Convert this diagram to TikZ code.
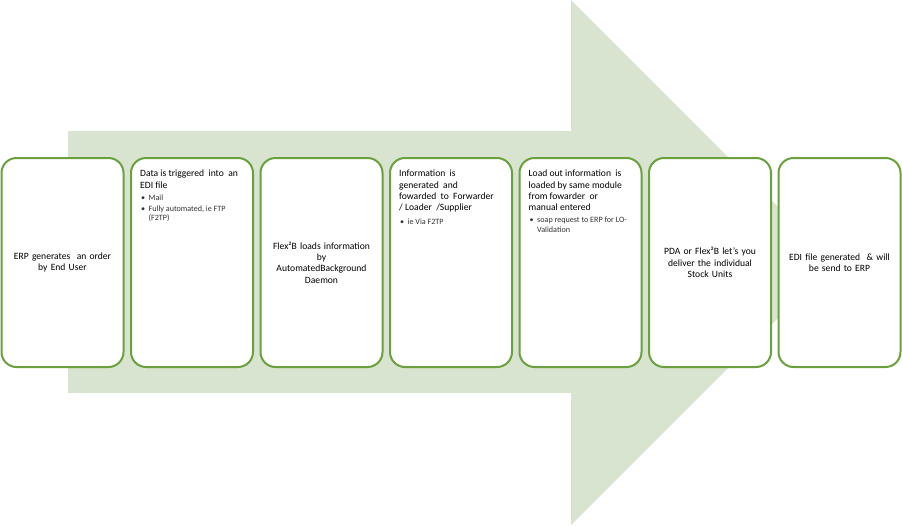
\documentclass[tikz,border=0pt]{standalone}
\usepackage{fontspec}
\setmainfont{Carlito}
\definecolor{arrowfill}{RGB}{216,228,207}
\definecolor{boxline}{RGB}{106,160,62}
\newcommand\bul{\makebox[7.5pt][l]{\textbullet}}
\newcommand\bind{\hspace*{7.5pt}}
\tikzset{
  stepbox/.style={draw=boxline, line width=2pt, fill=white, rounded corners=15pt,
    minimum width=122pt, minimum height=209pt, inner sep=4pt, align=center, text width=112pt,
    font=\fontsize{9.6}{11.3}\selectfont},
  titletext/.style={anchor=north west, inner sep=0pt, align=left,
    font=\fontsize{9.6}{11.3}\selectfont},
  bullettext/.style={anchor=north west, inner sep=0pt, align=left, text=black!80,
    font=\fontsize{8.1}{9.4}\selectfont}
}
\begin{document}
\begin{tikzpicture}[x=1pt,y=-1pt]
\useasboundingbox (0,0) rectangle (902,525);
\fill[arrowfill] (68,131) -- (571,131) -- (571,0) -- (833.5,262.5) -- (571,525) -- (571,393) -- (68,393) -- cycle;
\node[stepbox] (b1) at (62.5,262.5) {ERP generates\ \ an order\\by End User};
\node[stepbox] (b2) at (192,262.5) {};
\node[stepbox] (b3) at (321.5,262.5) {Flex²B loads information\\by\\AutomatedBackground\\Daemon};
\node[stepbox] (b4) at (451,262.5) {};
\node[stepbox] (b5) at (580.5,262.5) {};
\node[stepbox] (b6) at (710,262.5) {PDA or Flex²B let's you\\deliver the individual\\Stock Units};
\node[stepbox] (b7) at (839.5,262.5) {EDI file generated\ \ \& will\\be send to ERP};
% box 2
\node[titletext] (t2) at ([xshift=10pt,yshift=-13pt]b2.north west) {Data is triggered\ \ into\ \ an\\EDI file};
\node[bullettext] (u2) at ([xshift=1pt,yshift=-6pt]t2.south west) {\bul Mail\\[1.5pt]\bul Fully automated, ie FTP\\\bind(F2TP)};
% box 4
\node[titletext] (t4) at ([xshift=10pt,yshift=-13pt]b4.north west) {Information\ \ is\\generated\ \ and\\fowarded\ \ to\ \ Forwarder\\/ Loader\ \ /Supplier};
\node[bullettext] (u4) at ([xshift=1pt,yshift=-6pt]t4.south west) {\bul ie Via F2TP};
% box 5
\node[titletext] (t5) at ([xshift=10pt,yshift=-13pt]b5.north west) {Load out information\ \ is\\loaded by same module\\from\ fowarder\ \ or\\manual\ entered};
\node[bullettext] (u5) at ([xshift=1pt,yshift=-6pt]t5.south west) {\bul soap request to ERP for LO-\\\bind Validation};
\end{tikzpicture}
\end{document}
